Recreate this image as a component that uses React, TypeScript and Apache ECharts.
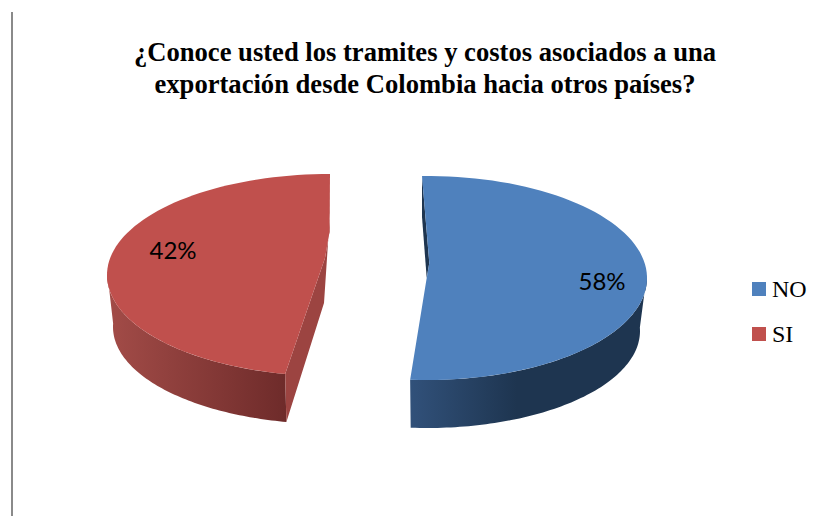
import React, { useEffect, useRef } from "react";
import * as echarts from "echarts";

const titleLines = [
  "¿Conoce usted los tramites y costos asociados a una",
  "exportación desde Colombia hacia otros países?",
];
const categories = ["NO", "SI"];
const shares = [58, 42];
const topColors = ["#4F81BD", "#C0504D"];
const wallFrom = ["#31517A", "#A34C48"];
const wallTo = ["#1E3550", "#6E2B2A"];
const innerWall = ["#1E3550", "#9C4441"];

// The reference is a tilted, stretched 3D pie: per-slice view geometry.
const views = [
  {
    cx: 427, cy: 278, rx: 220, ry: 102,
    bx: 427, by: 331, brx: 213, bry: 97,
    apex: [426.7, 278], bend: [2.6, -15], apexDepth: 0,
    trimStart: -1.3, trimEnd: -0.8, wallFromDeg: 88, wallToDeg: 360,
    labelAt: [602, 280], cornerDepth: 41,
  },
  {
    cx: 330, cy: 275, rx: 223, ry: 101,
    bx: 330, by: 327, brx: 217, bry: 97,
    apex: [325, 258], bend: [4.5, -26], apexDepth: 45,
    trimStart: 6.4, trimEnd: 0, wallFromDeg: 0, wallToDeg: 272,
    labelAt: [173, 249], cornerDepth: 39,
  },
];

// Foreshortening of the tilted view: cumulative share -> drawn angle (clockwise from 12 o'clock)
const viewAngle = (s: number) => 360 * s + 49 * Math.sin(2 * Math.PI * s);

const pt = (cx: number, cy: number, rx: number, ry: number, deg: number) => {
  const a = (deg * Math.PI) / 180;
  return [cx + rx * Math.sin(a), cy - ry * Math.cos(a)];
};

const arc = (cx: number, cy: number, rx: number, ry: number, from: number, to: number) => {
  const n = 80;
  const out: number[][] = [];
  for (let i = 0; i <= n; i++) out.push(pt(cx, cy, rx, ry, from + ((to - from) * i) / n));
  return out;
};

const total = shares.reduce((a, b) => a + b, 0);

const renderSlice = (index: number) => (_params: any, api: any) => {
  const v = views[index];
  const value = api.value(0) as number;
  const before = shares.slice(0, index).reduce((a, b) => a + b, 0);
  const a0 = viewAngle(before / total) + v.trimStart;
  const a1 = viewAngle((before + value) / total) + v.trimEnd;

  const topArc = arc(v.cx, v.cy, v.rx, v.ry, a0, a1);
  const endTop = pt(v.cx, v.cy, v.rx, v.ry, a1);
  const bendPt = [v.apex[0] + v.bend[0], v.apex[1] + v.bend[1]];
  const firstOnCorner = index === 0 ? topArc[0] : endTop;
  const bendIsAtEnd = index === 1;

  const topFace = bendIsAtEnd
    ? [...topArc, bendPt, v.apex]
    : [...topArc, v.apex, bendPt];

  const wA = Math.max(a0, v.wallFromDeg);
  const wB = Math.min(a1, v.wallToDeg);
  const outerTop = arc(v.cx, v.cy, v.rx, v.ry, wA, wB);
  const outerBottom = arc(v.bx, v.by, v.brx, v.bry, wA, wB).reverse();
  const xs = outerTop.map((p) => p[0]).concat(outerBottom.map((p) => p[0]));
  const minX = Math.min(...xs);
  const maxX = Math.max(...xs);
  const flip = index === 0;
  const wallFill = {
    type: "linear",
    global: true,
    x: minX,
    y: 0,
    x2: maxX,
    y2: 0,
    colorStops: flip
      ? [
          { offset: 0, color: wallFrom[index] },
          { offset: 0.45, color: wallTo[index] },
          { offset: 1, color: wallTo[index] },
        ]
      : [
          { offset: 0, color: wallFrom[index] },
          { offset: 1, color: wallTo[index] },
        ],
  };

  const cornerBottom = [firstOnCorner[0], firstOnCorner[1] + v.cornerDepth];
  const apexLow = [v.apex[0] - 1, v.apex[1] + v.apexDepth];
  const startTop = topArc[0];
  const startBottom = pt(v.bx, v.by, v.brx, v.bry, a0);
  const cutWall =
    index === 0
      ? [firstOnCorner, cornerBottom, v.apex, bendPt]
      : [firstOnCorner, cornerBottom, apexLow, startBottom, startTop, v.apex, bendPt];

  return {
    type: "group",
    children: [
      { type: "polygon", shape: { points: outerTop.concat(outerBottom) }, style: { fill: wallFill } },
      { type: "polygon", shape: { points: cutWall }, style: { fill: innerWall[index] } },
      { type: "polygon", shape: { points: topFace }, style: { fill: topColors[index] } },
      {
        type: "text",
        x: v.labelAt[0],
        y: v.labelAt[1],
        style: {
          text: `${value}%`,
          fill: "#000000",
          font: "24px Lato",
          align: "center",
          verticalAlign: "middle",
        },
      },
    ],
  };
};

export default function App() {
  const ref = useRef<HTMLDivElement>(null);
  useEffect(() => {
    const chart = echarts.init(ref.current!, undefined, { renderer: "svg" });
    chart.setOption({
      animation: false,
      backgroundColor: "#ffffff",
      title: {
        text: titleLines.join("\n"),
        left: 420,
        top: 31,
        textAlign: "center",
        textStyle: {
          fontFamily: "Liberation Serif",
          fontWeight: "bold",
          fontSize: 26.6,
          lineHeight: 32,
          color: "#000000",
        },
      },
      legend: {
        orient: "vertical",
        left: 752,
        top: 277,
        icon: "rect",
        itemWidth: 14,
        itemHeight: 14,
        itemGap: 21,
        data: categories,
        textStyle: {
          fontFamily: "Liberation Serif",
          fontSize: 24,
          color: "#000000",
          padding: [4, 0, 0, 1],
        },
        padding: 0,
      },
      graphic: [
        {
          type: "rect",
          shape: { x: 11, y: 12, width: 2, height: 504 },
          style: { fill: "#8A8A8A" },
        },
      ],
      series: categories.map((name, i) => ({
        type: "custom",
        name,
        coordinateSystem: "none",
        renderItem: renderSlice(i),
        itemStyle: { color: topColors[i] },
        data: [[shares[i]]],
      })),
    });
    return () => chart.dispose();
  }, []);
  return (
    <div
      ref={ref}
      style={{ position: "absolute", left: 0, top: 0, width: 826, height: 516 }}
    />
  );
}
